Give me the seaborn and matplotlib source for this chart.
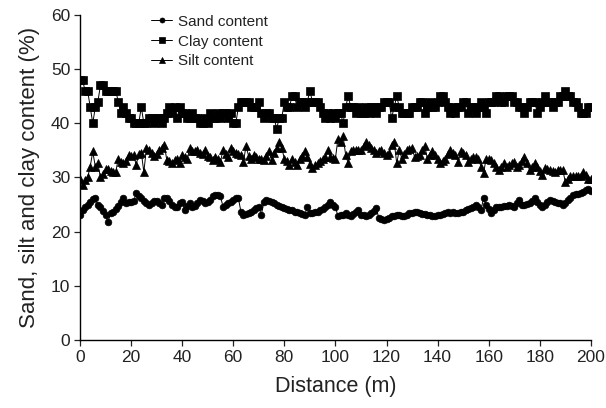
import numpy as np
import pandas as pd
import matplotlib
matplotlib.use("Agg")
import matplotlib.pyplot as plt
import seaborn as sns

distance = list(range(0, 201))

sand = [23.0, 24.0, 24.5, 24.9, 25.4, 26.0, 26.2, 24.9, 24.6, 23.8,
        23.0, 21.8, 23.4, 23.7, 24.2, 24.7, 25.5, 26.2, 25.2, 25.4,
        25.5, 25.6, 27.1, 26.6, 26.3, 25.6, 25.2, 24.9, 25.3, 25.7,
        25.6, 25.2, 24.9, 26.2, 26.2, 25.6, 25.0, 24.6, 24.6, 25.2,
        25.5, 23.9, 24.8, 25.2, 24.5, 24.8, 25.2, 25.8, 25.6, 25.3,
        25.4, 25.9, 26.5, 26.7, 26.7, 26.5, 24.6, 24.9, 25.2, 25.5,
        25.8, 26.2, 26.2, 23.7, 23.1, 23.3, 23.5, 23.7, 23.9, 24.3,
        24.6, 23.1, 25.5, 25.8, 25.7, 25.5, 25.3, 25.0, 24.7, 24.5,
        24.3, 24.2, 24.0, 23.9, 23.7, 23.6, 23.4, 23.3, 23.1, 24.6,
        23.4, 23.5, 23.6, 23.7, 23.9, 24.1, 24.6, 24.9, 25.5, 25.0,
        24.6, 22.8, 23.0, 23.1, 23.4, 23.1, 22.8, 23.3, 23.7, 24.0,
        23.1, 23.0, 22.8, 23.1, 23.4, 23.8, 24.3, 22.5, 22.4, 22.2,
        22.3, 22.5, 22.8, 22.9, 23.1, 23.0, 22.9, 22.8, 23.1, 23.4,
        23.5, 23.7, 23.6, 23.4, 23.3, 23.2, 23.1, 23.0, 22.9, 22.8,
        23.0, 23.1, 23.3, 23.4, 23.6, 23.4, 23.6, 23.5, 23.5, 23.6,
        23.7, 23.9, 24.1, 24.3, 24.6, 24.9, 24.5, 24.0, 26.2, 24.9,
        24.1, 23.4, 24.0, 24.6, 24.6, 24.6, 24.7, 24.8, 24.9, 24.7,
        24.6, 25.2, 25.8, 24.9, 25.0, 25.1, 25.2, 25.7, 26.2, 25.5,
        24.9, 24.6, 25.0, 25.4, 25.8, 25.6, 25.5, 25.3, 25.2, 24.9,
        25.3, 25.8, 26.3, 26.8, 26.9, 27.0, 27.1, 27.3, 27.6, 27.9,
        27.5]

clay = [48, 48, 46, 46, 43, 40, 43, 44, 47, 47,
        46, 46, 46, 46, 46, 44, 42, 43, 42, 41,
        41, 40, 40, 40, 43, 40, 40, 41, 41, 40,
        41, 41, 40, 41, 42, 43, 42, 43, 41, 43,
        42, 42, 41, 41, 42, 41, 41, 40, 40, 41,
        40, 42, 41, 41, 42, 41, 42, 42, 41, 42,
        40, 40, 43, 44, 44, 44, 44, 43, 43, 43,
        44, 42, 41, 42, 42, 41, 41, 39, 41, 41,
        44, 43, 43, 45, 45, 43, 44, 44, 43, 44,
        46, 44, 44, 44, 43, 42, 41, 42, 41, 42,
        41, 42, 42, 40, 43, 45, 43, 43, 42, 43,
        42, 42, 43, 42, 43, 43, 42, 43, 43, 44,
        44, 44, 41, 43, 45, 43, 42, 42, 42, 42,
        43, 43, 43, 44, 44, 42, 43, 44, 43, 43,
        44, 45, 45, 44, 43, 42, 43, 42, 43, 43,
        44, 44, 42, 43, 43, 42, 43, 44, 43, 42,
        44, 44, 44, 45, 45, 44, 44, 45, 45, 45,
        44, 44, 43, 43, 42, 43, 44, 44, 44, 42,
        43, 44, 45, 44, 44, 43, 44, 44, 45, 45,
        46, 45, 45, 44, 44, 43, 42, 42, 42, 43,
        43]

silt = [29.8, 28.6, 29.5, 30.0, 32.0, 34.8, 32.0, 32.6, 30.0, 30.6,
        31.5, 31.5, 31.2, 31.0, 31.0, 33.5, 32.8, 32.6, 33.0, 34.2,
        34.0, 34.2, 32.3, 34.4, 34.6, 31.0, 35.4, 35.0, 34.6, 34.0,
        34.4, 35.0, 35.5, 36.0, 33.2, 33.0, 32.6, 33.2, 33.5, 32.6,
        34.2, 33.8, 33.5, 35.4, 34.8, 34.9, 35.0, 34.5, 34.4, 35.1,
        34.0, 33.8, 33.2, 33.8, 33.4, 32.9, 35.1, 34.4, 33.8, 35.4,
        34.8, 34.5, 34.3, 34.2, 32.9, 35.8, 34.0, 33.5, 34.2, 33.8,
        33.5, 33.4, 33.2, 34.0, 34.8, 33.2, 34.5, 35.5, 36.6, 35.4,
        33.5, 33.0, 32.3, 33.5, 32.8, 32.3, 33.5, 34.0, 34.8, 33.8,
        32.5, 31.7, 32.3, 32.6, 33.0, 33.5, 33.8, 35.1, 33.8, 33.6,
        33.5, 37.2, 36.6, 37.6, 34.2, 32.6, 34.8, 35.0, 35.1, 35.1,
        35.1, 35.8, 36.6, 36.0, 35.4, 35.0, 34.5, 34.8, 35.1, 34.6,
        34.2, 34.5, 36.0, 36.6, 32.6, 35.1, 33.5, 34.3, 35.1, 35.2,
        35.4, 33.8, 34.0, 34.2, 35.0, 35.8, 33.5, 34.2, 34.8, 34.2,
        33.4, 32.6, 33.0, 33.5, 34.3, 35.1, 34.5, 34.2, 32.9, 34.8,
        34.5, 34.2, 32.9, 33.4, 33.8, 33.7, 33.5, 32.0, 30.8, 33.5,
        33.4, 33.2, 32.6, 32.0, 31.4, 32.0, 32.6, 32.0, 32.3, 32.6,
        32.9, 32.0, 32.3, 33.0, 33.8, 32.6, 31.4, 32.0, 32.6, 32.0,
        31.2, 30.5, 31.7, 31.5, 31.4, 31.2, 31.1, 31.3, 31.4, 31.4,
        29.2, 29.8, 30.2, 30.2, 30.2, 30.2, 30.2, 31.1, 30.5, 29.8,
        29.8]

series_names = ["Sand content", "Clay content", "Silt content"]
x_ticks = list(range(0, 201, 20))
y_ticks = list(range(0, 61, 10))

sns.set_theme(style="ticks")
plt.rcParams["font.family"] = ["Liberation Sans", "DejaVu Sans"]

fig = plt.figure(figsize=(6.06, 4.08), dpi=100)
ax = fig.add_axes([0.132, 0.167, 0.843, 0.796])

markers = ["o", "s", "^"]
sizes = [4.8, 5.2, 5.6]
for name, vals, mk, ms in zip(series_names, [sand, clay, silt], markers, sizes):
    sns.lineplot(x=distance, y=vals, ax=ax, color="black", linewidth=0.7,
                 marker=mk, markersize=ms, markeredgecolor="black",
                 markerfacecolor="black", markeredgewidth=0.5, label=name)

ax.set_xlim(0, 200)
ax.set_ylim(0, 60)
ax.set_xticks(x_ticks)
ax.set_yticks(y_ticks)
ax.tick_params(axis="both", direction="out", length=4, width=0.9,
               labelsize=12.5, colors="#222222", pad=3)
for s in ["top", "right"]:
    ax.spines[s].set_visible(False)
for s in ["left", "bottom"]:
    ax.spines[s].set_linewidth(1.0)
    ax.spines[s].set_color("black")

ax.set_xlabel("Distance (m)", fontsize=15.5, color="#222222", labelpad=8)
ax.set_ylabel("Sand, silt and clay content (%)", fontsize=16,
              color="#222222", labelpad=8)

leg = ax.legend(loc="upper left", bbox_to_anchor=(0.127, 1.02), frameon=False,
                fontsize=11, handlelength=1.4, handletextpad=0.4,
                labelspacing=0.38, borderaxespad=0, markerscale=0.75)
for t in leg.get_texts():
    t.set_color("#222222")

fig.savefig("out.png", dpi=100)
